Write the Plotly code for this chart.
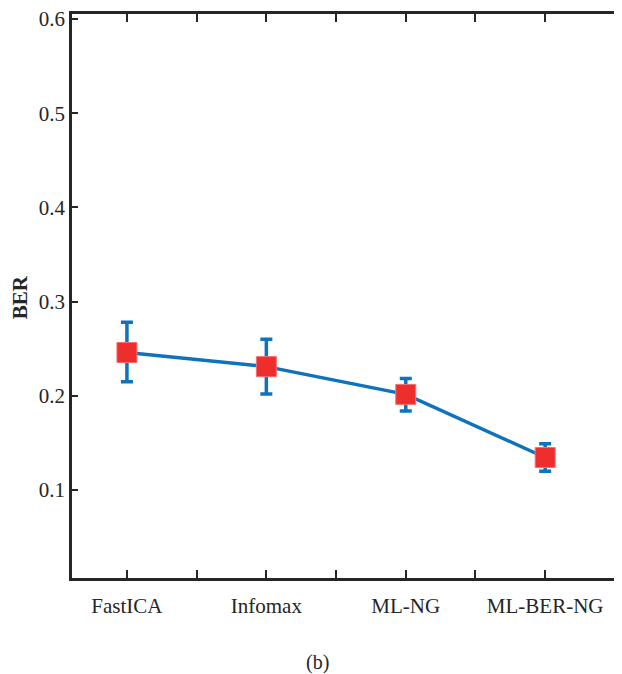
import plotly.graph_objects as go

categories = ["FastICA", "Infomax", "ML-NG", "ML-BER-NG"]
ber_mean = [0.246, 0.231, 0.2015, 0.1345]
err_plus = [0.032, 0.029, 0.017, 0.0145]
err_minus = [0.031, 0.029, 0.0175, 0.0145]
y_ticks = [0.1, 0.2, 0.3, 0.4, 0.5, 0.6]

xpos = [i + 1 for i in range(len(categories))]
minor_vals = [p + 0.5 for p in xpos]

BLUE = "#0E72BD"
RED = "#EE2D2D"
AX = "#262626"
FONT = "Liberation Serif"

fig = go.Figure()
fig.add_trace(go.Scatter(
    x=xpos, y=ber_mean, mode="lines+markers",
    line=dict(color=BLUE, width=3.5),
    marker=dict(symbol="square", size=20, color=RED,
                line=dict(color="#F57070", width=1)),
    error_y=dict(type="data", symmetric=False, array=err_plus,
                 arrayminus=err_minus, color=BLUE, thickness=3.5, width=6),
    hoverinfo="skip", showlegend=False,
))
# invisible trace to activate the top (mirror) x axis
fig.add_trace(go.Scatter(x=xpos, y=ber_mean, xaxis="x2", mode="markers",
                         marker=dict(opacity=0), hoverinfo="skip",
                         showlegend=False))

xr = [0.606, 4.551]
fig.update_layout(
    width=614, height=666,
    margin=dict(l=64, r=0, t=6, b=96),
    paper_bgcolor="white", plot_bgcolor="white",
    font=dict(family=FONT, size=21, color=AX),
    xaxis=dict(
        range=xr, tickvals=xpos, ticktext=categories,
        ticks="inside", ticklen=8, tickwidth=2, tickcolor=AX,
        showline=True, linecolor=AX, linewidth=2.5, mirror=False,
        showgrid=False, zeroline=False, ticklabelstandoff=7,
        tickfont=dict(family=FONT, size=21, color=AX),
        minor=dict(tickvals=minor_vals, ticks="inside", ticklen=8,
                   tickwidth=1.5, tickcolor=AX, showgrid=False),
    ),
    xaxis2=dict(
        range=xr, overlaying="x", side="top", anchor="y",
        tickvals=xpos + minor_vals, showticklabels=False,
        ticks="inside", ticklen=8, tickwidth=1.5, tickcolor=AX,
        showline=True, linecolor=AX, linewidth=2.5,
        showgrid=False, zeroline=False,
    ),
    yaxis=dict(
        range=[0.0066, 0.6053], tickvals=y_ticks,
        ticktext=[f"{v:.1f}" for v in y_ticks],
        ticks="inside", ticklen=6, tickwidth=2, tickcolor=AX,
        showline=True, linecolor=AX, linewidth=2.5, mirror=False,
        showgrid=False, zeroline=False, ticklabeloverflow="allow",
        tickfont=dict(family=FONT, size=21, color=AX),
    ),
    annotations=[
        dict(text="<b>BER</b>", x=-0.0945, y=0.498, xref="paper", yref="paper",
             textangle=-90, showarrow=False, xanchor="center", yanchor="middle",
             font=dict(family=FONT, size=21, color=AX)),
        dict(text="(b)", x=0.4455, y=-0.1507, xref="paper", yref="paper",
             showarrow=False, xanchor="center", yanchor="middle",
             font=dict(family=FONT, size=20, color=AX)),
    ],
)

fig.write_html("out.html")
